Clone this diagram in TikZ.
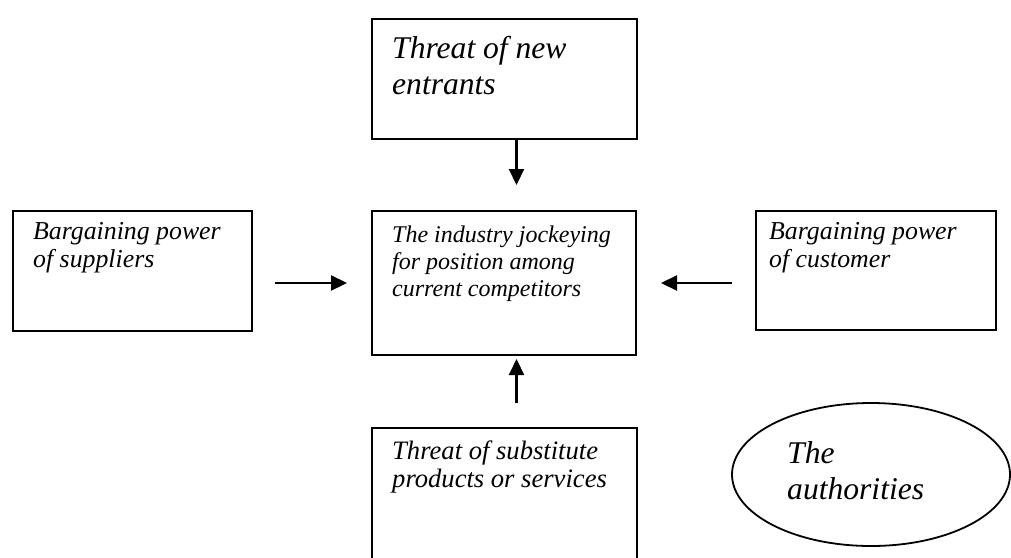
\documentclass[tikz,border=0pt]{standalone}
\usepackage{fontspec}
\setmainfont{Liberation Serif}
\usetikzlibrary{arrows.meta,positioning,shapes.geometric}

\begin{document}
\begin{tikzpicture}[
    x=1pt, y=-1pt,
    box/.style={draw, line width=2pt, anchor=north west, inner sep=0pt},
    txt/.style={anchor=north west, align=left, inner sep=0pt, font=\itshape\fontsize{25.8}{28}\selectfont},
    bigtxt/.style={txt, font=\itshape\fontsize{31.6}{36}\selectfont},
    arrow/.style={-{Triangle[length=16pt,width=15pt]}, line width=2.2pt}
]
\useasboundingbox (0,0) rectangle (1011,557);

\node[box, minimum width=265pt, minimum height=120pt] (entrants) at (371,18) {};
\node[bigtxt] (entrantstext) at ([shift={(21,18)}]entrants.north west) {Threat of new\\entrants};

\node[box, minimum width=239pt, minimum height=120pt] (suppliers) at (12,210) {};
\node[txt] (supplierstext) at ([shift={(21,12)}]suppliers.north west) {Bargaining power\\of suppliers};

\node[box, minimum width=264pt, minimum height=144pt] (rivalry) at (371,210) {};
\node[txt, font=\itshape\fontsize{24}{27}\selectfont] (rivalrytext) at ([shift={(21,16)}]rivalry.north west) {The industry jockeying\\for position among\\current competitors};

\node[box, minimum width=240pt, minimum height=119pt] (customer) at (755,210) {};
\node[txt] (customertext) at ([shift={(14,12)}]customer.north west) {Bargaining power\\of customer};

\node[box, minimum width=265pt, minimum height=150pt] (substitutes) at (371,427) {};
\node[txt, font=\itshape\fontsize{26.6}{27.5}\selectfont] (substitutestext) at ([shift={(21,14)}]substitutes.north west) {Threat of substitute\\products or services};

\node[ellipse, draw, line width=1.8pt, minimum width=278pt, minimum height=143pt] (authorities) at (871,474.5) {};
\node[bigtxt] (authoritiestext) at (787,441) {The\\authorities};

\draw[arrow, shorten >=25pt] ([xshift=12pt]entrants.south) -- ([xshift=12pt]entrants.south |- rivalry.north);
\draw[arrow, shorten <=22pt, shorten >=24pt] (suppliers.east |- rivalry.west) -- (rivalry.west);
\draw[arrow, shorten <=23pt, shorten >=24pt] (customer.west |- rivalry.east) -- (rivalry.east);
\draw[arrow, shorten <=24pt, shorten >=3pt] ([xshift=12pt]substitutes.north) -- ([xshift=12pt]substitutes.north |- rivalry.south);
\end{tikzpicture}
\end{document}
